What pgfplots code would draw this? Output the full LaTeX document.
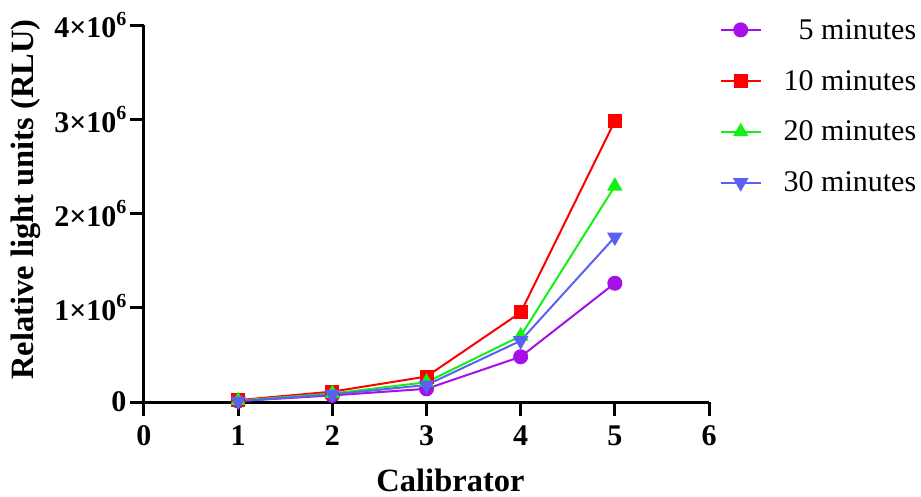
\documentclass[border=0pt]{standalone}
\usepackage{pgfplots}
\pgfplotsset{compat=1.18}
\usepackage{fontspec}
\setmainfont{Liberation Serif}
\definecolor{cpurple}{RGB}{166,16,230}
\definecolor{cred}{RGB}{255,0,0}
\definecolor{cgreen}{RGB}{20,240,20}
\definecolor{cblue}{RGB}{90,96,245}
\newcommand{\sixsup}{\raisebox{0.42em}{\fontsize{20}{20}\selectfont 6}}
\begin{document}
\begin{tikzpicture}
\begin{axis}[
  scale only axis,
  width=565pt, height=377pt,
  xmin=0, xmax=6, ymin=0, ymax=4e6,
  axis x line=bottom, axis y line=left,
  axis line style={line width=3pt, -},
  every tick/.style={line width=3pt, black},
  tick align=outside,
  major tick length=14pt,
  xtick={0,1,2,3,4,5,6},
  xticklabels={0,1,2,3,4,5,6},
  ytick={0,1e6,2e6,3e6,4e6},
  yticklabels={0,1\texttimes10\sixsup,2\texttimes10\sixsup,3\texttimes10\sixsup,4\texttimes10\sixsup},
  ticklabel style={font=\fontsize{30}{32}\selectfont\bfseries},
  xticklabel style={yshift=-6pt},
  yticklabel style={xshift=0pt},
  scaled y ticks=false,
  xlabel={Calibrator},
  ylabel={Relative light units (RLU)},
  label style={font=\fontsize{32.5}{34}\selectfont\bfseries},
  xlabel style={inner sep=0pt, yshift=-20pt, xshift=24pt},
  ylabel style={yshift=7pt, xshift=14pt},
  clip=false,
  legend style={draw=none, at={(1,1)}, anchor=north west, xshift=7.5pt, yshift=10pt,
    font=\fontsize{30}{32}\selectfont, row sep=25.5pt, fill=none,
    /tikz/every odd column/.append style={column sep=20pt}},
  legend cell align=right,
  legend image code/.code={
    \draw[#1, mark repeat=2, mark phase=2] plot coordinates {(0pt,0pt) (20pt,0pt) (40pt,0pt)};
  },
  every axis plot/.append style={line width=2pt},
]
\addplot[cpurple, mark=*, mark size=6.5pt] coordinates {(1,0.01e6) (2,0.07e6) (3,0.14e6) (4,0.48e6) (5,1.26e6)};
\addlegendentry{5 minutes}
\addplot[cred, mark=square*, mark size=6pt] coordinates {(1,0.02e6) (2,0.11e6) (3,0.27e6) (4,0.95e6) (5,2.98e6)};
\addlegendentry{10 minutes}
\addplot[cgreen, mark=triangle*, mark size=7pt] coordinates {(1,0.015e6) (2,0.09e6) (3,0.21e6) (4,0.70e6) (5,2.29e6)};
\addlegendentry{20 minutes}
\addplot[cblue, mark=triangle*, mark options={rotate=180}, mark size=7pt] coordinates {(1,0.01e6) (2,0.08e6) (3,0.18e6) (4,0.65e6) (5,1.75e6)};
\addlegendentry{30 minutes}
\end{axis}
\pgfresetboundingbox
\path (current axis.south west) ++(-144pt,-94pt) rectangle ++(921pt,496pt);
\end{tikzpicture}
\end{document}
